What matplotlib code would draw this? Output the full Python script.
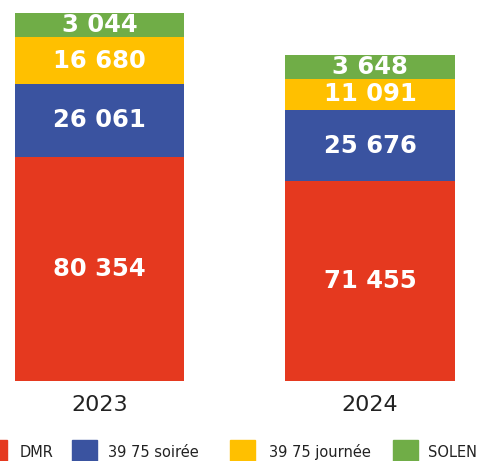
import numpy as np
import matplotlib
matplotlib.use('Agg')
import matplotlib.pyplot as plt
from matplotlib.patches import Rectangle

years = ['2023', '2024']
categories = ['DMR', '39 75 soirée', '39 75 journée', 'SOLEN']
dmr = [80354, 71455]
soiree = [26061, 25676]
journee = [16680, 11091]
solen = [3044, 3648]
colors = ['#E5391F', '#3A53A0', '#FFC000', '#70AD47']

# the original gives the thin top band a minimum height so the label fits
min_band = 8700

series = [dmr, soiree, journee, solen]

fig = plt.figure(figsize=(4.85, 4.61), dpi=100)
ax = fig.add_axes([0, 80 / 461, 1, 368 / 461])

x = np.arange(len(years))
bottom = np.zeros(len(years))
for vals, col in zip(series, colors):
    vals = np.array(vals)
    h = np.maximum(vals, min_band)
    ax.bar(x, h, width=0.628, bottom=bottom, color=col, linewidth=0)
    for xi, b, hi, v in zip(x, bottom, h, vals):
        ax.text(xi, b + hi / 2, f'{v:,}'.replace(',', ' '), ha='center', va='center',
                color='white', fontsize=17.5, fontweight='bold', family='DejaVu Sans')
    bottom += h

ax.set_xlim(-99.5 / 270.5, (485 - 99.5) / 270.5)
ax.set_ylim(0, bottom.max())
ax.axis('off')

for xi, y in zip(x, years):
    ax.text(xi, -0.065 * bottom.max(), y, ha='center', va='center', fontsize=16,
            color='#222222', family='DejaVu Sans')

# legend drawn by hand along the bottom edge
sq_x = [-18, 72, 230, 393]
txt_x = [20, 108, 269, 428]
for cat, col, sx, tx in zip(categories, colors, sq_x, txt_x):
    fig.patches.append(Rectangle((sx / 485, 0), 25 / 485, 21 / 461, color=col,
                                 transform=fig.transFigure, figure=fig))
    fig.text(tx / 485, 1 / 461, cat, ha='left', va='bottom', fontsize=10.5,
             color='#222222', family='DejaVu Sans')

fig.savefig('out.png', dpi=100)
